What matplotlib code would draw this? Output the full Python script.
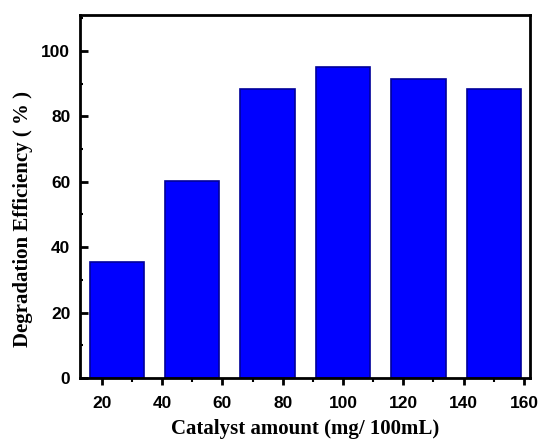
import matplotlib
matplotlib.use("Agg")
import matplotlib.pyplot as plt
from matplotlib.ticker import MultipleLocator

amounts = [25, 50, 75, 100, 125, 150]
efficiency = [35.4, 60.2, 88.3, 95.2, 91.3, 88.3]
xticks = [20, 40, 60, 80, 100, 120, 140, 160]
yticks = [0, 20, 40, 60, 80, 100]

fig = plt.figure(figsize=(5.41, 4.42), dpi=100)
ax = fig.add_axes([80/541, 1-378/442, 450/541, 363/442])

ax.bar(amounts, efficiency, width=18, color="#0000FF", edgecolor="#00009A", linewidth=1.2)

ax.set_xlim(12.8, 162)
ax.set_ylim(0, 111)
ax.set_xticks(xticks)
ax.set_yticks(yticks)
ax.xaxis.set_minor_locator(MultipleLocator(10))
ax.yaxis.set_minor_locator(MultipleLocator(10))

for s in ax.spines.values():
    s.set_linewidth(2)
ax.tick_params(axis="x", which="major", direction="out", length=5, width=2, top=False, pad=8)
ax.tick_params(axis="x", which="minor", direction="out", length=3, width=1.5, top=False)
ax.tick_params(axis="y", which="major", direction="in", length=6, width=2, right=False, pad=7)
ax.tick_params(axis="y", which="minor", direction="in", length=2.5, width=1.5, right=False)

for lab in ax.get_xticklabels() + ax.get_yticklabels():
    lab.set_fontfamily("Liberation Sans")
    lab.set_fontweight("bold")
    lab.set_fontsize(12.5)

ax.set_xlabel("Catalyst amount (mg/ 100mL)", fontfamily="Liberation Serif", fontweight="bold", fontsize=15, labelpad=6)
ax.set_ylabel("Degradation Efficiency ( % )", fontfamily="Liberation Serif", fontweight="bold", fontsize=15)
ax.yaxis.set_label_coords(-0.105, 0.438)

fig.savefig("out.png", dpi=100)
